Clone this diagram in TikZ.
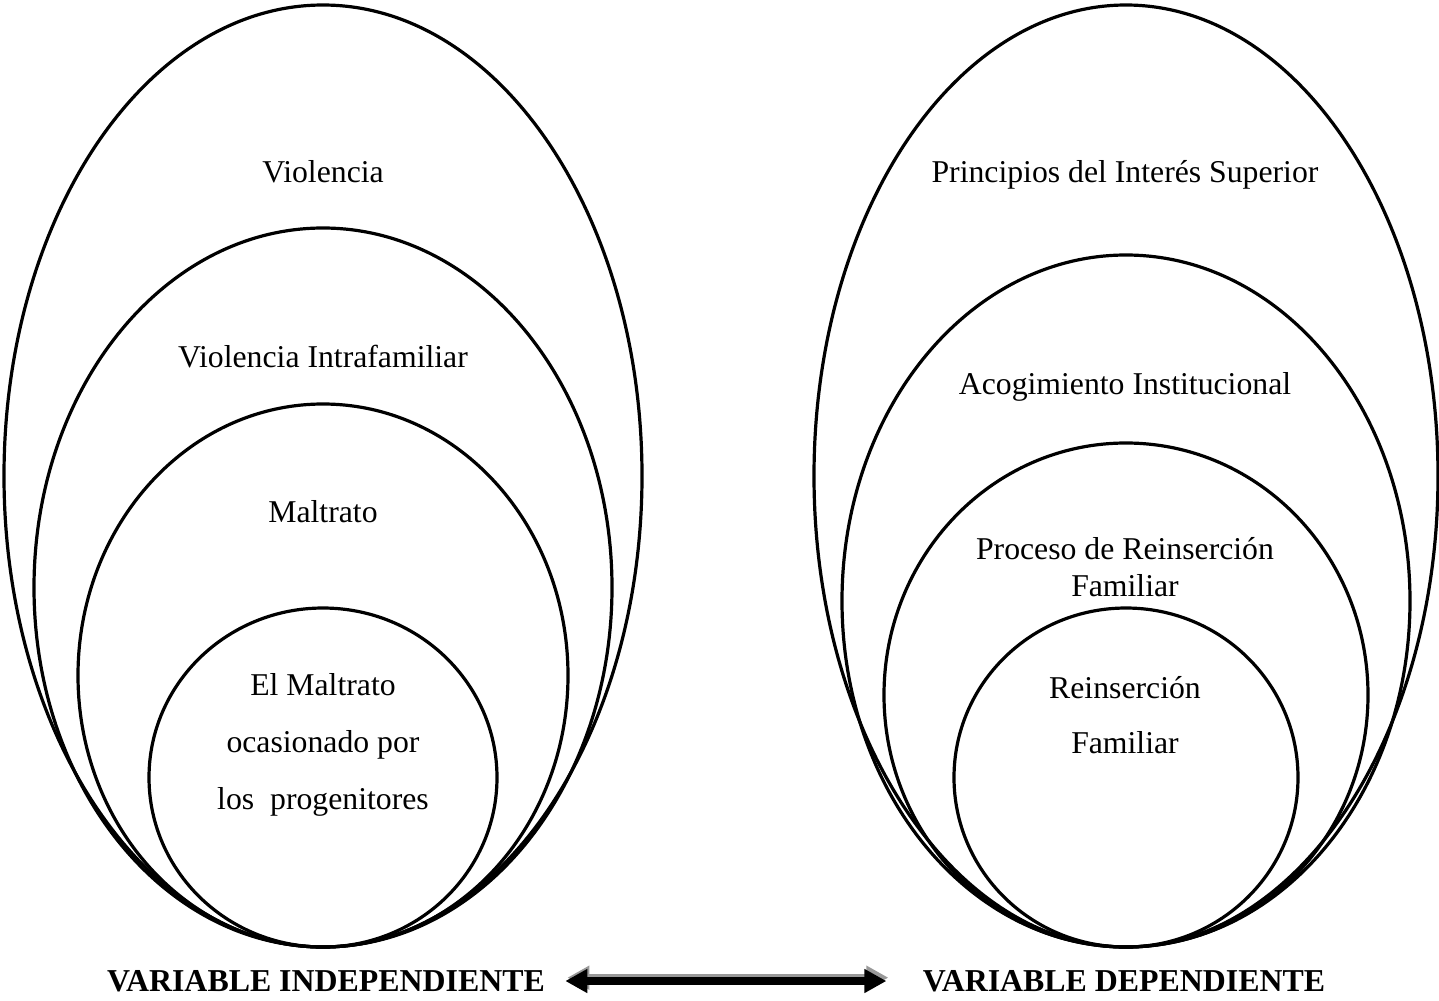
\documentclass[tikz,border=0pt]{standalone}
\usepackage{fontspec}
\setmainfont{Liberation Serif}
\usetikzlibrary{arrows.meta}

\tikzset{every picture/.style={line width=0.75pt}}
\tikzset{
  ring/.style={line width=2.4},
  lbl/.style={inner sep=0.75pt, align=center, font=\fontsize{23.8}{28.5}\selectfont},
  varlbl/.style={inner sep=0pt, font=\fontsize{23.9}{28.5}\selectfont\bfseries},
  bothway/.style={line width=6pt, {Triangle[length=16.5pt,width=17pt]}-{Triangle[length=16.5pt,width=17pt]}}
}

\begin{document}
\begin{tikzpicture}[x=0.75pt,y=0.75pt,yscale=-1,xscale=1]
\useasboundingbox (0,0) rectangle (1439,1000);

%Shape: Ellipse [left group]
\draw [ring]  (323,476) ellipse (319 and 471) ;
\draw [ring]  (323,587.5) ellipse (289 and 359.5) ;
\draw [ring]  (323,675.5) ellipse (245 and 271.5) ;
\draw [ring]  (323,777.5) ellipse (174 and 169.5) ;
%Shape: Ellipse [right group]
\draw [ring]  (1126,476) ellipse (312 and 471) ;
\draw [ring]  (1126,601) ellipse (284 and 346) ;
\draw [ring]  (1126,695) ellipse (242 and 252) ;
\draw [ring]  (1126,777.5) ellipse (172 and 169.5) ;

% Text Node
\draw (323,172) node [lbl] (viol) {Violencia};
% Text Node
\draw (323,357) node [lbl] (intra) {Violencia Intrafamiliar};
% Text Node
\draw (323,512) node [lbl] (maltr) {Maltrato};
% Text Node
\draw (323,745) node [lbl, font=\fontsize{23.8}{42.75}\selectfont] (progen) {El Maltrato\\ocasionado por\\los\ \ progenitores};
% Text Node
\draw (1125,175) node [lbl] (princ) {Principios del Interés Superior};
% Text Node
\draw (1125,387) node [lbl] (acog) {Acogimiento Institucional};
% Text Node
\draw (1125,567) node [lbl, font=\fontsize{23.8}{27.75}\selectfont] (proc) {Proceso de Reinserción\\Familiar};
% Text Node
\draw (1125,715) node [lbl, font=\fontsize{23.8}{41.25}\selectfont] (reins) {Reinserción\\Familiar};
% Text Node
\draw (326,981) node [varlbl] (indep) {VARIABLE INDEPENDIENTE};
% Text Node
\draw (1124,981) node [varlbl] (dep) {VARIABLE DEPENDIENTE};

%Double Arrow [shadow, then arrow]
\draw [bothway, black!40, shorten <=15pt, shorten >=27pt] ([xshift=1.5pt,yshift=-2.5pt]indep.east) -- ([xshift=1.5pt,yshift=-2.5pt]dep.west) ;
\draw [bothway, shorten <=15pt, shorten >=27pt] (indep.east) -- (dep.west) ;

\end{tikzpicture}
\end{document}
